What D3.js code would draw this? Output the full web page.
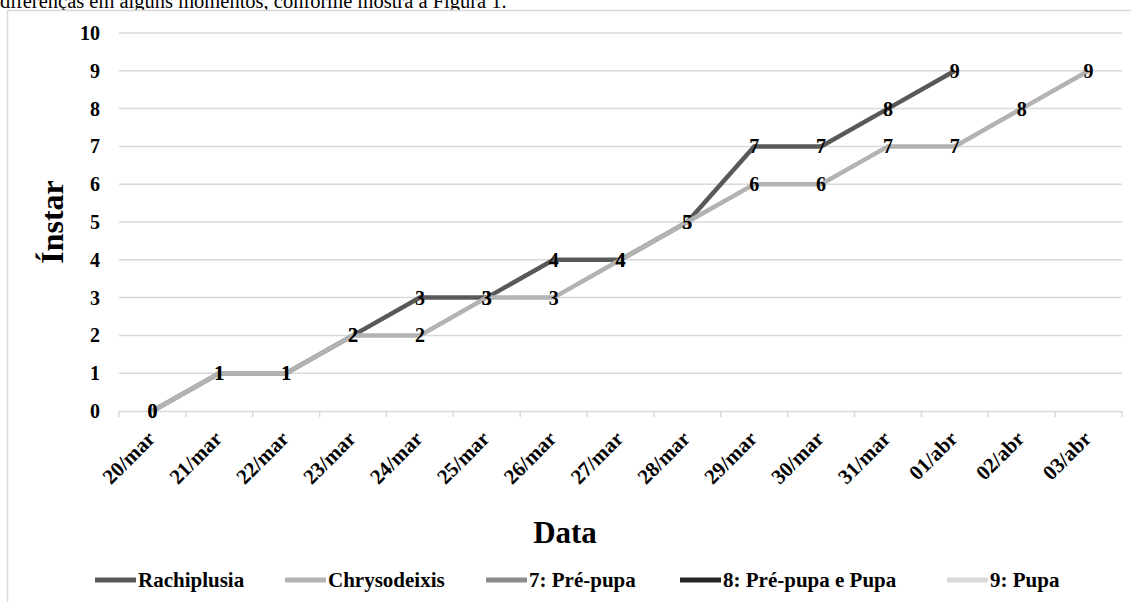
<!DOCTYPE html>
<html>
<head>
<meta charset="utf-8">
<script src="https://cdn.jsdelivr.net/npm/d3@7.9.0/dist/d3.min.js"></script>
<style>
  body { margin: 0; background: #fff; }
  svg { display: block; font-family: "Liberation Serif", "Times New Roman", serif; }
</style>
</head>
<body>
<svg id="chart" width="1131" height="602"></svg>
<script>
const dates = ["20/mar", "21/mar", "22/mar", "23/mar", "24/mar", "25/mar", "26/mar", "27/mar",
  "28/mar", "29/mar", "30/mar", "31/mar", "01/abr", "02/abr", "03/abr"];
const rachiplusia = [0, 1, 1, 2, 3, 3, 4, 4, 5, 7, 7, 8, 9];
const chrysodeixis = [0, 1, 1, 2, 2, 3, 3, 4, 5, 6, 6, 7, 7, 8, 9];
const yTicks = [0, 1, 2, 3, 4, 5, 6, 7, 8, 9, 10];
const legendNames = ["Rachiplusia", "Chrysodeixis", "7: Pré-pupa", "8: Pré-pupa e Pupa", "9: Pupa"];
const legendColors = ["#595959", "#b3b3b3", "#8c8c8c", "#262626", "#d9d9d9"];

const svg = d3.select("#chart");

// text of the page above the figure (cut off by the figure frame)
svg.append("text")
  .attr("x", 0).attr("y", 8)
  .style("font-size", "20.5px")
  .text("diferenças em alguns momentos, conforme mostra a Figura 1.");

// figure border
svg.append("rect")
  .attr("x", 7.5).attr("y", 10.5)
  .attr("width", 1140).attr("height", 600)
  .attr("fill", "#fff")
  .attr("stroke", "#d9d9d9").attr("stroke-width", 1.5);

const plotLeft = 119, plotRight = 1122, plotTop = 33, plotBottom = 411;

let x = d3.scaleBand().domain(dates).range([plotLeft, plotRight]);
let y = d3.scaleLinear().domain([0, 10]).range([plotBottom, plotTop]);

// gridlines
svg.append("g").selectAll("line")
  .data(yTicks.filter(d => d > 0))
  .join("line")
  .attr("x1", plotLeft).attr("x2", plotRight)
  .attr("y1", d => y(d)).attr("y2", d => y(d))
  .attr("stroke", "#d9d9d9").attr("stroke-width", 1.5);

// y labels
svg.append("g").selectAll("text")
  .data(yTicks)
  .join("text")
  .attr("x", 100).attr("y", d => y(d))
  .attr("dy", "0.35em")
  .attr("text-anchor", "end")
  .style("font-size", "20px").style("font-weight", "bold")
  .text(d => d);

// x axis
let xAxis = svg.append("g")
  .attr("transform", `translate(0,${plotBottom})`)
  .call(d3.axisBottom(x).tickSize(0).tickFormat(""));
xAxis.select(".domain").attr("stroke", "#d9d9d9").attr("stroke-width", 1.5);
xAxis.selectAll(".tick").remove();

let bounds = dates.map(d => x(d)).concat([plotRight]);
svg.append("g").selectAll("line")
  .data(bounds)
  .join("line")
  .attr("x1", d => d).attr("x2", d => d)
  .attr("y1", plotBottom).attr("y2", plotBottom + 6)
  .attr("stroke", "#d9d9d9").attr("stroke-width", 1.5);

svg.append("g").selectAll("text")
  .data(dates)
  .join("text")
  .attr("transform", d => `translate(${x(d) + x.bandwidth() / 2 + 4},${plotBottom + 29}) rotate(-45)`)
  .attr("text-anchor", "end")
  .style("font-size", "21px").style("font-weight", "bold")
  .text(d => d);

// axis titles
svg.append("text")
  .attr("transform", "translate(63,222) rotate(-90)")
  .attr("text-anchor", "middle")
  .style("font-size", "32px").style("font-weight", "bold")
  .text("Ínstar");

svg.append("text")
  .attr("x", 565).attr("y", 543)
  .attr("text-anchor", "middle")
  .style("font-size", "31px").style("font-weight", "bold")
  .text("Data");

// lines
let line = d3.line()
  .x((d, i) => x(dates[i]) + x.bandwidth() / 2)
  .y(d => y(d));

let series = [
  { name: "Rachiplusia", values: rachiplusia, color: legendColors[0] },
  { name: "Chrysodeixis", values: chrysodeixis, color: legendColors[1] }
];

series.forEach(s => {
  svg.append("path")
    .attr("d", line(s.values))
    .attr("fill", "none")
    .attr("stroke", s.color)
    .attr("stroke-width", 4.5);
});

series.forEach(s => {
  svg.append("g").selectAll("text")
    .data(s.values)
    .join("text")
    .attr("x", (d, i) => x(dates[i]) + x.bandwidth() / 2)
    .attr("y", d => y(d))
    .attr("dy", "0.35em")
    .attr("text-anchor", "middle")
    .style("font-size", "20px").style("font-weight", "bold")
    .text(d => d);
});

// legend
let legendX = [95, 285, 486, 680, 947];
let legend = svg.append("g");
legendNames.forEach((name, i) => {
  legend.append("line")
    .attr("x1", legendX[i]).attr("x2", legendX[i] + 41)
    .attr("y1", 580).attr("y2", 580)
    .attr("stroke", legendColors[i]).attr("stroke-width", 5);
  legend.append("text")
    .attr("x", legendX[i] + 43).attr("y", 580)
    .attr("dy", "0.35em")
    .style("font-size", "21px").style("font-weight", "bold")
    .text(name);
});
</script>
</body>
</html>
